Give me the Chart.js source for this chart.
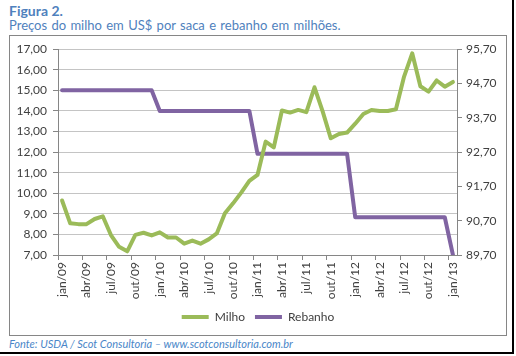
<!DOCTYPE html>
<html><head><meta charset="utf-8">
<script src="https://cdn.jsdelivr.net/npm/chart.js@4"></script>
<style>
html,body{margin:0;padding:0;background:#fff;}
body{width:516px;height:356px;position:relative;overflow:hidden;font-family:Lato,"Open Sans",sans-serif;}
#outer{position:absolute;left:0;top:0;width:512px;height:352px;border-right:2px solid #000;border-bottom:2px solid #000;}
#t1{position:absolute;left:9px;top:3px;font-size:14px;font-weight:bold;color:#4f81bd;line-height:15px;}
#t2{position:absolute;left:9px;top:18px;font-size:13px;color:#4f81bd;line-height:15px;word-spacing:1px;}
#frame{position:absolute;left:9px;top:35px;width:496px;height:299px;border:1px solid #868686;}
#wrap{position:absolute;left:10px;top:36px;width:496px;height:298px;}
#foot{position:absolute;left:9px;top:337px;font-size:11px;font-style:italic;color:#4a86c8;line-height:13px;}
</style>
</head><body>
<div id="outer"></div>
<div id="t1">Figura 2.</div>
<div id="t2">Preços do milho em US$ por saca e rebanho em milhões.</div>
<div id="frame"></div>
<div id="wrap"><canvas id="c" width="496" height="298"></canvas></div>
<div id="foot">Fonte: USDA / Scot Consultoria – www.scotconsultoria.com.br</div>
<script>
const categories = [
 'jan/09','fev/09','mar/09','abr/09','mai/09','jun/09','jul/09','ago/09','set/09','out/09','nov/09','dez/09',
 'jan/10','fev/10','mar/10','abr/10','mai/10','jun/10','jul/10','ago/10','set/10','out/10','nov/10','dez/10',
 'jan/11','fev/11','mar/11','abr/11','mai/11','jun/11','jul/11','ago/11','set/11','out/11','nov/11','dez/11',
 'jan/12','fev/12','mar/12','abr/12','mai/12','jun/12','jul/12','ago/12','set/12','out/12','nov/12','dez/12',
 'jan/13'];
const milho = [9.65,8.54,8.5,8.5,8.75,8.88,7.97,7.4,7.18,7.98,8.08,7.95,
 8.1,7.85,7.85,7.55,7.7,7.55,7.76,8.05,9.03,9.51,10.03,10.6,
 10.89,12.51,12.23,14.02,13.92,14.05,13.94,15.15,13.98,12.67,12.88,12.95,
 13.38,13.85,14.05,14.0,14.0,14.08,15.67,16.8,15.2,14.94,15.48,15.18,
 15.41];
const rebanho = [94.5,94.5,94.5,94.5,94.5,94.5,94.5,94.5,94.5,94.5,94.5,94.5,
 93.9,93.9,93.9,93.9,93.9,93.9,93.9,93.9,93.9,93.9,93.9,93.9,
 92.65,92.65,92.65,92.65,92.65,92.65,92.65,92.65,92.65,92.65,92.65,92.65,
 90.8,90.8,90.8,90.8,90.8,90.8,90.8,90.8,90.8,90.8,90.8,90.8,
 89.7];
const leftTicks = {min:7, max:17, step:1};
const rightTicks = {min:89.7, max:95.7, step:1};

const fmt = v => Number(v).toFixed(2).replace('.', ',');
const txt = '#404040', axisCol = '#868686', gridCol = '#c4c4c4';
const font = {family:'Lato', size:12};

new Chart(document.getElementById('c'), {
  type:'line',
  data:{labels:categories, datasets:[
    {label:'Milho', data:milho, yAxisID:'y', borderColor:'#9bbb59', backgroundColor:'#9bbb59', borderWidth:4, pointRadius:0, tension:0, borderJoinStyle:'round', borderCapStyle:'round'},
    {label:'Rebanho', data:rebanho, yAxisID:'y1', borderColor:'#8064a2', backgroundColor:'#8064a2', borderWidth:4, pointRadius:0, tension:0, borderJoinStyle:'round', borderCapStyle:'round'}
  ]},
  options:{
    responsive:false, animation:false, events:[],
    layout:{padding:{left:0,right:0,top:13,bottom:1}},
    plugins:{
      tooltip:{enabled:false},
      legend:{position:'bottom', labels:{usePointStyle:true, pointStyle:'line', pointStyleWidth:27, color:txt, font:font, padding:10}}
    },
    scales:{
      x:{offset:true,
        grid:{offset:true, drawOnChartArea:false, tickLength:5, tickColor:ctx => (ctx.index % 3 === 0 ? axisCol : 'rgba(0,0,0,0)')},
        border:{color:axisCol},
        ticks:{autoSkip:false, minRotation:90, maxRotation:90, padding:2, color:txt, font:font,
          callback:function(v, i){ return i % 3 === 0 ? this.getLabelForValue(v) : ''; }},
        afterFit:s => { s.height = 46; }
      },
      y:{position:'left', min:leftTicks.min, max:leftTicks.max,
        ticks:{stepSize:leftTicks.step, color:txt, font:font, padding:6, callback:v => fmt(v)},
        grid:{color:gridCol, tickColor:axisCol, tickLength:5},
        border:{color:axisCol},
        afterFit:s => { s.width = 48; }
      },
      y1:{position:'right', min:rightTicks.min, max:rightTicks.max,
        ticks:{stepSize:rightTicks.step, color:txt, font:font, padding:4, callback:v => fmt(v)},
        grid:{drawOnChartArea:false, tickColor:axisCol, tickLength:5},
        border:{color:axisCol},
        afterFit:s => { s.width = 49; }
      }
    }
  }
});
</script>
</body></html>
